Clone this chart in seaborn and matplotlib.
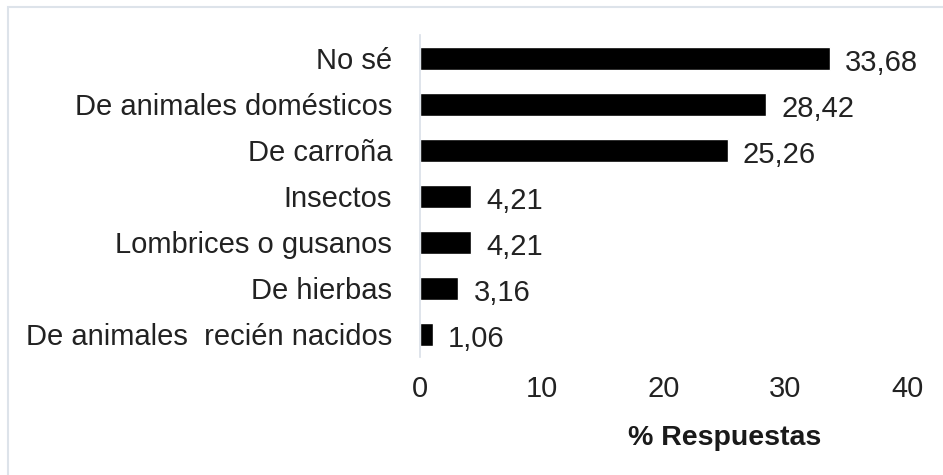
import matplotlib.pyplot as plt
import seaborn as sns
import pandas as pd
from matplotlib.patches import Rectangle

categorias = ["No sé", "De animales domésticos", "De carroña", "Insectos",
              "Lombrices o gusanos", "De hierbas", "De animales  recién nacidos"]
valores = [33.68, 28.42, 25.26, 4.21, 4.21, 3.16, 1.06]
etiquetas = ["33,68", "28,42", "25,26", "4,21", "4,21", "3,16", "1,06"]
ticks = [0, 10, 20, 30, 40]

df = pd.DataFrame({"cat": categorias, "val": valores})

sns.set_theme(style="white")
plt.rcParams['font.family'] = ['Liberation Sans', 'DejaVu Sans']

fig = plt.figure(figsize=(9.43, 4.75), dpi=100)
ax = fig.add_axes([420/943, 1-357/475, 487/943, 322/475])

sns.barplot(data=df, x="val", y="cat", orient="h", color="black",
            saturation=1, width=0.5, ax=ax)

for i, (v, t) in enumerate(zip(valores, etiquetas)):
    ax.text(v + 1.25, i + 0.04, t, va="center_baseline", ha="left",
            fontsize=21, color="#222222")

ax.set_xlim(0, 40)
ax.set_ylim(6.5, -0.5)
ax.set_xticks(ticks)
ax.set_xticklabels([str(t) for t in ticks])
ax.tick_params(axis="x", labelsize=21, length=0, pad=13, colors="#222222")
ax.tick_params(axis="y", labelsize=21, length=0, pad=20, colors="#222222")
ax.set_ylabel("")
ax.set_xlabel("% Respuestas", fontsize=20.5, fontweight="bold", color="#1a1a1a")
ax.xaxis.set_label_coords(0.625, -0.21)

for s in ["top", "right", "bottom"]:
    ax.spines[s].set_visible(False)
ax.spines["left"].set_color("#d9dfe8")
ax.spines["left"].set_linewidth(1.2)

fig.patches.append(Rectangle((8/943, -0.1), 1.2, 1 - 7/475 + 0.1,
                             transform=fig.transFigure, fill=False,
                             edgecolor="#dde3ea", linewidth=1.5))

fig.savefig("out.png", dpi=100)
